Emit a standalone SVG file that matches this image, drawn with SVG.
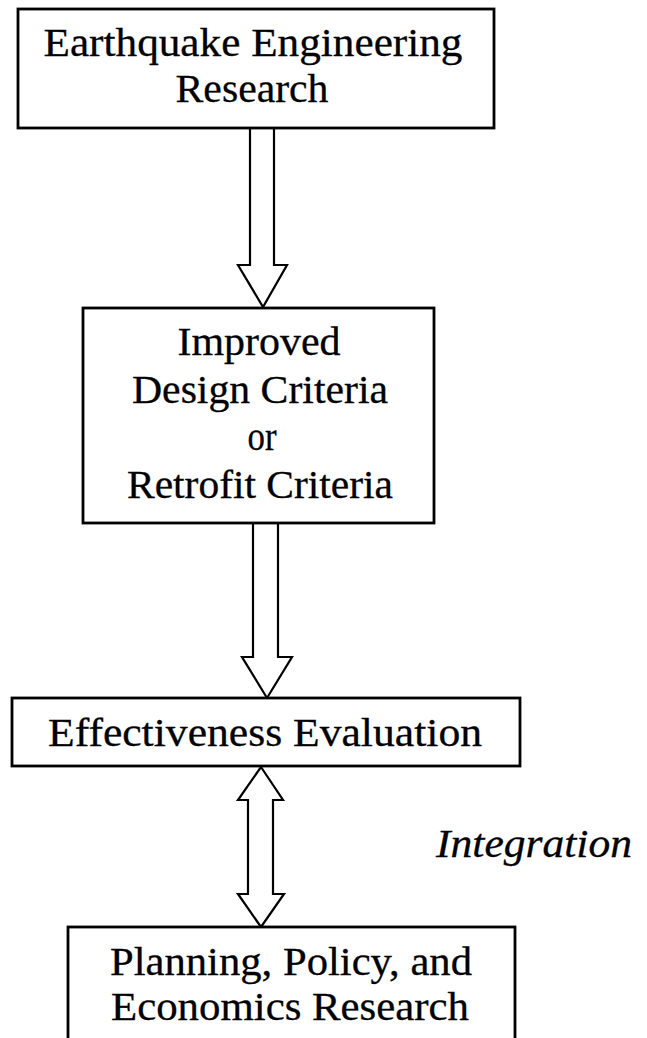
<svg xmlns="http://www.w3.org/2000/svg" width="647" height="1038" viewBox="0 0 647 1038">
<style>
.box{fill:#fff;stroke:#000;stroke-width:2.8}
.arr{fill:#fff;stroke:#000;stroke-width:2.2;stroke-linejoin:miter}
.t{font-family:"Liberation Serif","Times New Roman",serif;font-size:39px;fill:#000;stroke:#000;stroke-width:0.3;text-anchor:middle}
.i{font-family:"Liberation Serif","Times New Roman",serif;font-size:39px;font-style:italic;fill:#000;stroke:#000;stroke-width:0.3}
</style>
<rect width="647" height="1038" fill="#fff"/>
<g id="connectors">
<path class="arr" d="M250,128 L274,128 L274,265 L287,265 L263,307 L238,265 L250,265 Z"/>
<path class="arr" d="M253,523 L278,523 L278,657 L292,657 L267,698 L242,657 L253,657 Z"/>
<path class="arr" d="M261,767 L283,800 L273,800 L273,894 L284,894 L261,927 L238,894 L248,894 L248,800 L238,800 Z"/>
</g>
<g id="n1">
<rect class="box" x="18" y="9" width="476" height="119"/>
<text class="t" x="253" y="56" textLength="419" lengthAdjust="spacingAndGlyphs">Earthquake Engineering</text>
<text class="t" x="252" y="102" textLength="153" lengthAdjust="spacingAndGlyphs">Research</text>
</g>
<g id="n2">
<rect class="box" x="83" y="308" width="351" height="215"/>
<text class="t" x="259" y="355" textLength="163" lengthAdjust="spacingAndGlyphs">Improved</text>
<text class="t" x="260" y="403" textLength="256" lengthAdjust="spacingAndGlyphs">Design Criteria</text>
<text class="t" x="262" y="450" textLength="29" lengthAdjust="spacingAndGlyphs">or</text>
<text class="t" x="260" y="498" textLength="266" lengthAdjust="spacingAndGlyphs">Retrofit Criteria</text>
</g>
<g id="n3">
<rect class="box" x="12" y="698" width="508" height="68"/>
<text class="t" x="265" y="746" textLength="434" lengthAdjust="spacingAndGlyphs">Effectiveness Evaluation</text>
</g>
<g id="n4">
<rect class="box" x="68" y="927" width="447" height="130"/>
<text class="t" x="291" y="975" textLength="362" lengthAdjust="spacingAndGlyphs">Planning, Policy, and</text>
<text class="t" x="290" y="1020" textLength="358" lengthAdjust="spacingAndGlyphs">Economics Research</text>
</g>
<text class="i" x="436" y="857" textLength="196" lengthAdjust="spacingAndGlyphs">Integration</text>
</svg>
